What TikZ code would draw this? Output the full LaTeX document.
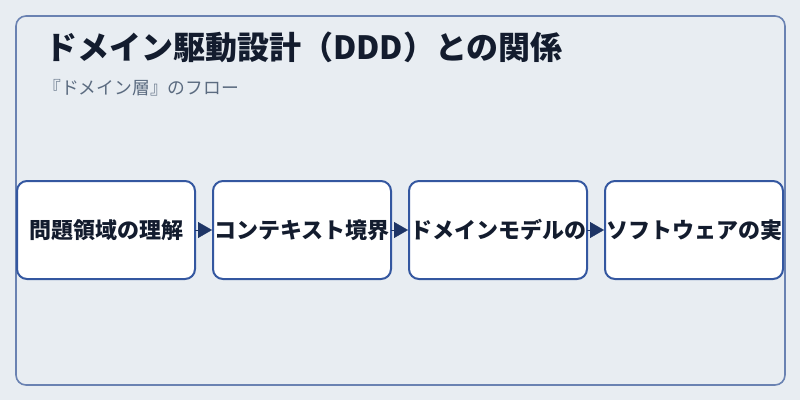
\documentclass[tikz,border=0pt]{standalone}
\usepackage{fontspec}
\newfontfamily\jpfont{Noto Sans CJK JP}
\usepackage{xcolor}
\usetikzlibrary{arrows.meta}
\definecolor{bgcol}{HTML}{E8EDF2}
\definecolor{framecol}{HTML}{6A82B2}
\definecolor{boxcol}{HTML}{3457A0}
\definecolor{arrowcol}{HTML}{1E3566}
\definecolor{titlecol}{HTML}{131C2E}
\definecolor{subcol}{HTML}{5B6B80}
\begin{document}
\begin{tikzpicture}[x=1pt,y=-1pt,
	stepbox/.style={draw=boxcol,line width=2pt,fill=white,rounded corners=10pt,minimum width=178pt,minimum height=98pt,inner sep=0pt,outer sep=0pt,font=\jpfont\bfseries\fontsize{22pt}{24pt}\selectfont,text=titlecol},
	flow/.style={draw=arrowcol,fill=arrowcol,line width=0.4pt,-{Triangle[length=14pt,width=16pt]},shorten >=1pt}]
			\useasboundingbox[fill=bgcol] (0,0) rectangle (800,400);
			\draw[framecol,line width=1.6pt,rounded corners=10pt] (16,16) rectangle (785,385);
			\node[anchor=west,inner sep=0pt,text=titlecol,font=\jpfont\bfseries\fontsize{32pt}{36pt}\selectfont] (title) at (45,47){ドメイン駆動設計（DDD）との関係};
			\node[anchor=west,inner sep=0pt,text=subcol,font=\jpfont\fontsize{17.8pt}{20pt}\selectfont] (sub) at (43,88){『ドメイン層』のフロー};
			\node[stepbox] (b1) at (106,230){問題領域の理解};
			\node[stepbox] (b2) at (302,230){コンテキスト境界};
			\node[stepbox] (b3) at (498,230){ドメインモデルの};
			\node[stepbox] (b4) at (694,230){ソフトウェアの実};
			\draw[flow] (b1.east) -- (b2.west);
			\draw[flow] (b2.east) -- (b3.west);
			\draw[flow] (b3.east) -- (b4.west);
		\end{tikzpicture}
\end{document}
